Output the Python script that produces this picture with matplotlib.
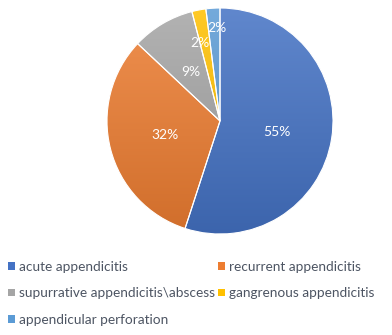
import numpy as np
import matplotlib
matplotlib.use('Agg')
import matplotlib.pyplot as plt
from matplotlib.colors import to_rgb
from matplotlib.patches import Rectangle

# データ
labels = ['acute appendicitis', 'recurrent appendicitis',
          'supurrative appendicitis\\abscess', 'gangrenous appendicitis',
          'appendicular perforation']
values = [55, 32, 9, 2, 2]
pct_text = ['55%', '32%', '9%', '2%', '2%']
colors = ['#4472C4', '#ED7D31', '#A5A5A5', '#FFC000', '#5B9BD5']
# ラベルの位置 (半径比, 角度のずれ)
label_r = [0.51, 0.50, 0.50, 0.71, 0.82]
label_dang = [-2, 0, 0, 3.5, -1.8]

plt.rcParams['font.family'] = ['Lato', 'DejaVu Sans']

fig = plt.figure(figsize=(3.92, 3.35), dpi=100)
r_px = 113
cx, cy = 220, 121
ax = fig.add_axes([(cx - r_px) / 392, (335 - cy - r_px) / 335,
                   2 * r_px / 392, 2 * r_px / 335])
ax.axis('off')

wedges, _ = ax.pie(values, colors=colors, startangle=90, counterclock=False,
                   radius=1, wedgeprops=dict(edgecolor='white', linewidth=0.8))

# グラデーション (上が明るく下が暗い)
t = np.linspace(0, 1, 256)[:, None]
for w, c in zip(wedges, colors):
    base = np.array(to_rgb(c))
    light = base + (1 - base) * 0.15
    dark = base * 0.88
    img = light[None, None, :] * (1 - t[..., None]) + dark[None, None, :] * t[..., None]
    img = np.repeat(img, 2, axis=1)
    im = ax.imshow(img, extent=[-1, 1, -1, 1], origin='upper', aspect='auto',
                   zorder=1)
    im.set_clip_path(w)
    w.set_facecolor('none')
    w.set_zorder(2)

ax.set_xlim(-1, 1)
ax.set_ylim(-1, 1)

# ラベル
for w, txt, rr, da in zip(wedges, pct_text, label_r, label_dang):
    ang = np.deg2rad((w.theta1 + w.theta2) / 2 + da)
    ax.text(rr * np.cos(ang), rr * np.sin(ang), txt, color='white',
            ha='center', va='center', fontsize=10, zorder=3)

# 凡例
order = [0, 2, 4, 1, 3]
handles = [Rectangle((0, 0), 1, 1, facecolor=colors[i]) for i in order]
fig.legend(handles, [labels[i] for i in order], ncol=2, frameon=False,
           loc='upper left', bbox_to_anchor=(0.0, 0.245),
           fontsize=9.8, labelcolor='#4D5563', handlelength=0.5,
           handleheight=0.5, handletextpad=0.3, columnspacing=0.25,
           labelspacing=1.05, borderaxespad=0.2)

plt.savefig('out.png', dpi=100)
